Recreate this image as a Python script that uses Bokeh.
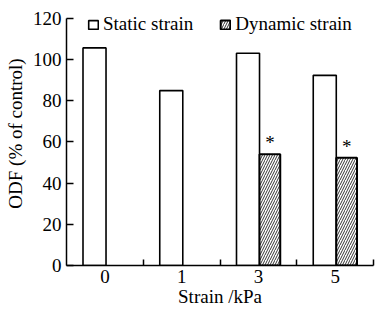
from bokeh.plotting import figure
from bokeh.models import (ColumnDataSource, FixedTicker, Range1d, Legend, LegendItem)
from bokeh.embed import file_html
from bokeh.resources import INLINE
from bokeh.core.properties import value

categories = ["0", "1", "3", "5"]
static_strain = [105.5, 84.8, 102.9, 92.2]
dynamic_cats = ["3", "5"]
dynamic_strain = [54.0, 52.2]
sig_marks = ["*", "*"]
y_ticks = [0, 20, 40, 60, 80, 100, 120]

FONT = "Liberation Serif"
FS = "19px"

idx = {c: i for i, c in enumerate(categories)}

p = figure(width=375, height=313, output_backend="svg", toolbar_location=None,
           x_range=Range1d(0, len(categories)), y_range=Range1d(0, 128),
           min_border_left=66, min_border_right=2, min_border_top=1,
           min_border_bottom=48)
p.outline_line_color = None
p.grid.visible = False
p.background_fill_color = "white"
p.border_fill_color = "white"

s_src = ColumnDataSource(dict(x=[idx[c] + 0.365 for c in categories], top=static_strain))
d_src = ColumnDataSource(dict(x=[idx[c] + 0.65 for c in dynamic_cats], top=dynamic_strain,
                              ty=[v + 5.5 for v in dynamic_strain], txt=sig_marks))

r1 = p.vbar(x="x", top="top", bottom=0, width=0.3, source=s_src,
            fill_color="white", line_color="black", line_width=1.6)
r2 = p.vbar(x="x", top="top", bottom=0, width=0.27, source=d_src,
            fill_color="white", line_color="black", line_width=2,
            hatch_pattern="/", hatch_color="#333333", hatch_scale=5, hatch_weight=1)
p.text(x="x", y="ty", text="txt", source=d_src, text_font=value(FONT),
       text_font_size=FS, text_align="center", text_baseline="middle", text_color="black")

xa = p.xaxis[0]
xa.ticker = FixedTicker(ticks=[i + 0.5 for i in range(len(categories))],
                        minor_ticks=list(range(1, len(categories) + 1)))
xa.major_label_overrides = {i + 0.5: c for i, c in enumerate(categories)}
xa.major_tick_in = 0
xa.major_tick_out = 0
xa.minor_tick_in = 6
xa.minor_tick_out = 0
xa.axis_line_width = 1.5
xa.axis_line_color = "black"
xa.minor_tick_line_width = 1.5
xa.minor_tick_line_color = "black"
xa.major_label_text_font = FONT
xa.major_label_text_font_size = FS
xa.major_label_text_color = "black"
xa.major_label_standoff = 4
xa.axis_label = "Strain /kPa"
xa.axis_label_text_font = FONT
xa.axis_label_text_font_style = "normal"
xa.axis_label_text_font_size = FS
xa.axis_label_text_color = "black"
xa.axis_label_standoff = 0

ya = p.yaxis[0]
ya.ticker = FixedTicker(ticks=y_ticks, minor_ticks=[])
ya.bounds = (0, 120)
ya.major_tick_in = 7
ya.major_tick_out = 0
ya.minor_tick_in = 0
ya.minor_tick_out = 0
ya.axis_line_width = 1.5
ya.axis_line_color = "black"
ya.major_tick_line_width = 1.5
ya.major_tick_line_color = "black"
ya.axis_label = "ODF (% of control)"
ya.axis_label_text_font = FONT
ya.axis_label_text_font_style = "normal"
ya.axis_label_text_font_size = FS
ya.axis_label_text_color = "black"
ya.major_label_text_font = FONT
ya.major_label_text_font_size = FS
ya.major_label_text_color = "black"
ya.major_label_standoff = 5
ya.axis_label_standoff = 4

legend = Legend(items=[LegendItem(label="Static strain", renderers=[r1]),
                       LegendItem(label="Dynamic strain", renderers=[r2])],
                orientation="horizontal", location=(21, 230),
                glyph_width=12, glyph_height=11, label_standoff=4, spacing=26,
                padding=0, margin=0, border_line_color=None, background_fill_alpha=0,
                label_text_font=FONT, label_text_font_size=FS, label_text_color="black")
p.add_layout(legend, "center")

open("out.html", "w").write(file_html(p, INLINE))
